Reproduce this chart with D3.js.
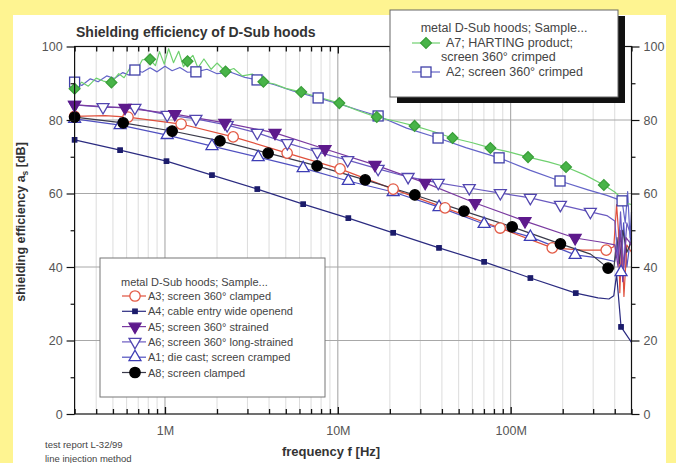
<!DOCTYPE html>
<html>
<head>
<meta charset="utf-8">
<script src="https://cdn.jsdelivr.net/npm/d3@7"></script>
<style>
  body { margin: 0; background: #fef491; }
  svg { display: block; font-family: "Liberation Sans", Arial, sans-serif; }
</style>
</head>
<body>
<div id="chart"></div>
<script>
// frequency in MHz, shielding efficiency in dB, third value 1 = draw a marker there
const a7 = [
  [0.30, 88.5, 1], [0.33, 90.3], [0.36, 89.2], [0.40, 91.4], [0.44, 90.6], [0.49, 90.2, 1], [0.54, 92.6],
  [0.58, 91.5], [0.63, 94.3], [0.68, 93.2], [0.74, 96.4], [0.82, 96.5, 1], [0.88, 94.8], [0.93, 98.6],
  [0.99, 95.2], [1.05, 99.4], [1.12, 95.6], [1.2, 98.7], [1.28, 94.5], [1.35, 96.0, 1], [1.45, 97.6],
  [1.55, 94.2], [1.68, 96.6], [1.85, 93.8], [2.0, 95.5], [2.24, 93.2, 1], [2.5, 94.0], [2.8, 92.0],
  [3.2, 92.5], [3.71, 90.4, 1], [4.3, 89.8], [5.0, 88.6], [6.14, 87.6, 1], [7.5, 86.4], [10.2, 84.6, 1],
  [13, 82.6], [16.8, 80.8, 1], [22, 79.6], [27.8, 78.4, 1], [36, 76.8], [46.1, 75.1, 1], [60, 73.8],
  [76.3, 72.4, 1], [100, 71.2], [126, 69.9, 1], [165, 68.6], [209, 67.2, 1], [270, 65.0], [346, 62.3, 1],
  [400, 60.4], [440, 58.6], [470, 57.3], [500, 57.0]
];
const a2 = [
  [0.30, 90.3, 1], [0.33, 89.4], [0.37, 91.2], [0.41, 90.4], [0.46, 92.0], [0.51, 91.3], [0.57, 92.9],
  [0.62, 92.2], [0.67, 93.6, 1], [0.74, 93.0], [0.82, 94.2], [0.9, 93.1], [1.0, 94.6], [1.1, 93.4],
  [1.22, 94.3], [1.35, 93.0], [1.51, 93.1, 1], [1.75, 93.8], [2.0, 92.6], [2.4, 93.0], [2.9, 91.6],
  [3.41, 90.9, 1], [4.3, 89.6], [5.5, 87.9], [7.69, 86.0, 1], [10.5, 84.2], [13, 82.8], [17.1, 81.1, 1],
  [25, 77.8], [38.0, 75.1, 1], [55, 72.5], [85.7, 69.7, 1], [130, 66.3], [193, 63.4, 1], [280, 61.0],
  [360, 59.5], [441, 58.0, 1], [460, 52.0], [475, 60.5], [490, 48.0], [500, 55.0]
];
const a3 = [
  [0.30, 81.0, 1], [0.45, 81.2], [0.611, 80.8, 1], [1.24, 78.9, 1], [2.48, 75.4, 1], [5.09, 71.0, 1],
  [10.3, 66.7, 1], [20.9, 61.2, 1], [41.7, 56.1, 1], [86.9, 50.6, 1], [174, 45.2, 1], [260, 44.6],
  [357, 44.6, 1], [395, 45.5], [410, 57.0], [420, 50.0], [428, 33.0], [440, 48.0], [452, 32.0],
  [470, 46.0], [500, 44.0]
];
const a4 = [
  [0.30, 74.6, 1], [0.55, 71.8, 1], [1.02, 68.8, 1], [1.87, 65.0, 1], [3.42, 61.2, 1], [6.30, 57.1, 1],
  [11.5, 53.3, 1], [20.9, 49.3, 1], [38.5, 45.2, 1], [70.2, 41.4, 1], [130, 37.0, 1], [238, 32.9, 1],
  [320, 31.6], [370, 31.3], [395, 32.2], [410, 38.0], [435, 23.7, 1], [500, 19.5]
];
const a5 = [
  [0.30, 84.1, 1], [0.587, 83.3, 1], [1.14, 81.6, 1], [2.22, 79.2, 1], [4.33, 76.5, 1], [8.43, 72.1, 1],
  [16.4, 67.8, 1], [32.0, 62.9, 1], [62.3, 57.4, 1], [121, 52.5, 1], [236, 47.9, 1], [330, 46.8],
  [400, 46.0], [418, 40.0], [430, 50.0], [445, 36.0], [465, 48.0], [500, 46.0]
];
const a6 = [
  [0.30, 84.1, 1], [0.438, 83.5, 1], [0.670, 83.3, 1], [1.03, 81.4, 1], [1.51, 80.3, 1], [2.29, 78.6, 1],
  [3.42, 76.5, 1], [5.11, 73.7, 1], [7.61, 71.3, 1], [11.4, 69.1, 1], [17.1, 66.7, 1], [25.5, 64.5, 1],
  [38.1, 62.9, 1], [57.6, 61.5, 1], [87.1, 60.1, 1], [130, 58.8, 1], [194, 56.9, 1], [289, 55.0, 1],
  [360, 54.0], [400, 52.5], [418, 42.0], [432, 55.0], [450, 40.0], [470, 52.0], [500, 48.0]
];
const a1 = [
  [0.30, 80.3, 1], [0.55, 78.6, 1], [1.03, 75.9, 1], [1.87, 72.9, 1], [3.46, 69.9, 1], [6.30, 66.9, 1],
  [11.5, 63.4, 1], [20.9, 60.4, 1], [38.5, 56.3, 1], [70.2, 51.7, 1], [130, 48.2, 1], [236, 43.3, 1],
  [330, 42.4], [400, 41.5], [415, 46.0], [435, 38.6, 1], [450, 52.0], [470, 40.0], [500, 50.0]
];
const a8 = [
  [0.30, 80.8, 1], [0.573, 79.2, 1], [1.10, 77.0, 1], [2.08, 74.3, 1], [3.95, 71.0, 1], [7.58, 67.5, 1],
  [14.4, 63.7, 1], [27.9, 59.6, 1], [53.7, 55.2, 1], [102, 50.9, 1], [194, 46.3, 1], [290, 43.5],
  [366, 39.7, 1], [395, 39.5], [412, 48.0], [425, 41.0], [445, 50.0], [470, 44.0], [500, 47.0]
];

// axis ticks and labels
const yMajor = [0, 20, 40, 60, 80, 100];
const yMinor = [10, 30, 50, 70, 90];
const xDecades = [1, 10, 100];
const xDecadeLabels = ["1M", "10M", "100M"];

const legendTop = ["A7; HARTING product;", "A2; screen 360° crimped"];
const legendBottom = [
  "A3; screen 360° clamped", "A4; cable entry wide openend", "A5; screen 360° strained",
  "A6; screen 360° long-strained", "A1; die cast; screen cramped", "A8; screen clamped"
];

// style per sample
const sA4 = { data: a4, line: "#2b2b80", stroke: "#1c1c6b", fill: "#1c1c6b", sym: "smallsq" };
const sA1 = { data: a1, line: "#5050c0", stroke: "#3d3db5", fill: "#fff", sym: "tri" };
const sA3 = { data: a3, line: "#e0503c", stroke: "#e35a45", fill: "#fff", sym: "circ" };
const sA8 = { data: a8, line: "#3a3a4a", stroke: "#000", fill: "#000", sym: "circ" };
const sA6 = { data: a6, line: "#6a5ac0", stroke: "#5246b0", fill: "#fff", sym: "tridown" };
const sA5 = { data: a5, line: "#7a3aa0", stroke: "#5e1a8c", fill: "#5e1a8c", sym: "tridown" };
const sA2 = { data: a2, line: "#6464c8", stroke: "#4040a8", fill: "#fff", sym: "square" };
const sA7 = { data: a7, line: "#6fd06f", stroke: "#3a9f3a", fill: "#48b448", sym: "diamond" };
const series = [sA4, sA1, sA3, sA8, sA6, sA5, sA2, sA7];

const W = 676, H = 463;
const svg = d3.select("#chart").append("svg").attr("width", W).attr("height", H);

svg.append("rect").attr("width", W).attr("height", H).attr("fill", "#fef491");
svg.append("rect").attr("x", 13).attr("y", 15).attr("width", 653).attr("height", H - 15).attr("fill", "#fff");

const x = d3.scaleLog().domain([0.3, 500]).range([74.6, 631.5]);
const y = d3.scaleLinear().domain([0, 100]).range([414, 46.5]);

const allTicks = x.ticks();

// grid
const grid = svg.append("g");
grid.selectAll(".vg").data(allTicks).join("line")
  .attr("x1", d => x(d)).attr("x2", d => x(d))
  .attr("y1", y(0)).attr("y2", y(100))
  .attr("stroke", d => xDecades.includes(d) ? "#a0a0a0" : "#dcdcdc")
  .attr("stroke-width", 1);
grid.selectAll(".hg").data(yMajor.slice(1, -1)).join("line")
  .attr("x1", x.range()[0]).attr("x2", x.range()[1])
  .attr("y1", d => y(d)).attr("y2", d => y(d))
  .attr("stroke", "#a8a8a8").attr("stroke-width", 1);

// series lines
const line = d3.line().x(d => x(d[0])).y(d => y(d[1]));
const plot = svg.append("g");
series.forEach(s => {
  plot.append("path").datum(s.data)
    .attr("d", line).attr("fill", "none")
    .attr("stroke", s.line).attr("stroke-width", 1.2).attr("stroke-linejoin", "round");
});

function drawMarker(g, sym, st, fl, px, py) {
  let m;
  if (sym === "circ") m = g.append("circle").attr("r", 5.2);
  else if (sym === "square") m = g.append("rect").attr("x", -5).attr("y", -5).attr("width", 10).attr("height", 10);
  else if (sym === "smallsq") m = g.append("rect").attr("x", -2.2).attr("y", -2.2).attr("width", 4.4).attr("height", 4.4);
  else if (sym === "diamond") m = g.append("path").attr("d", d3.symbol(d3.symbolSquare, 58)()).attr("transform", "rotate(45)");
  else if (sym === "tri") m = g.append("path").attr("d", d3.symbol(d3.symbolTriangle, 62)());
  else m = g.append("path").attr("d", d3.symbol(d3.symbolTriangle, 62)()).attr("transform", "rotate(180)");
  m.attr("fill", fl).attr("stroke", st).attr("stroke-width", 1.3);
  g.attr("transform", `translate(${px},${py})`);
}

series.forEach(s => {
  s.data.filter(d => d[2]).forEach(d => {
    drawMarker(plot.append("g"), s.sym, s.stroke, s.fill, x(d[0]), y(d[1]));
  });
});

// frame
svg.append("rect")
  .attr("x", x.range()[0]).attr("y", y(100))
  .attr("width", x.range()[1] - x.range()[0]).attr("height", y(0) - y(100))
  .attr("fill", "none").attr("stroke", "#111").attr("stroke-width", 1.2);

// log ticks on bottom and top, pointing inwards
const fmtTick = d => { const i = xDecades.indexOf(d); return i >= 0 ? xDecadeLabels[i] : ""; };
const xb = svg.append("g").attr("transform", `translate(0,${y(0)})`)
  .call(d3.axisBottom(x).tickValues(allTicks).tickSizeInner(-5).tickSizeOuter(0).tickPadding(12).tickFormat(fmtTick));
const xt = svg.append("g").attr("transform", `translate(0,${y(100)})`)
  .call(d3.axisTop(x).tickValues(allTicks).tickSizeInner(-5).tickSizeOuter(0).tickFormat(""));
[xb, xt].forEach(g => {
  g.select(".domain").remove();
  g.selectAll(".tick line").attr("stroke", "#111").attr("stroke-width", 1.3);
  g.selectAll(".tick").filter(d => xDecades.includes(d)).select("line").attr("y2", g === xb ? -7 : 7);
  g.selectAll("text").attr("font-size", 12.5).attr("fill", "#555").attr("font-family", "Liberation Sans, Arial, sans-serif");
});

// y axes on both sides, ticks pointing outwards
function yAxis(gen, xpos) {
  const g = svg.append("g").attr("transform", `translate(${xpos},0)`)
    .call(gen(y).tickValues(yMajor).tickSizeInner(8).tickSizeOuter(0).tickPadding(4));
  g.select(".domain").remove();
  g.selectAll(".tick line").attr("stroke", "#111").attr("stroke-width", 1.2);
  g.selectAll("text").attr("font-size", 12.5).attr("fill", "#555").attr("font-family", "Liberation Sans, Arial, sans-serif");
  const gm = svg.append("g").attr("transform", `translate(${xpos},0)`)
    .call(gen(y).tickValues(yMinor).tickSizeInner(4).tickSizeOuter(0).tickFormat(""));
  gm.select(".domain").remove();
  gm.selectAll(".tick line").attr("stroke", "#111").attr("stroke-width", 1.2);
}
yAxis(d3.axisLeft, x.range()[0]);
yAxis(d3.axisRight, x.range()[1]);

// titles
svg.append("text").attr("x", 76).attr("y", 37)
  .attr("font-size", 14).attr("font-weight", "bold").attr("fill", "#333")
  .text("Shielding efficiency of D-Sub hoods");

svg.append("text").attr("x", 331).attr("y", 456).attr("text-anchor", "middle")
  .attr("font-size", 13).attr("font-weight", "bold").attr("fill", "#333")
  .text("frequency f [Hz]");

const yl = svg.append("text").attr("transform", "translate(25,222) rotate(-90)")
  .attr("text-anchor", "middle").attr("font-size", 12.5).attr("font-weight", "bold").attr("fill", "#333");
yl.append("tspan").text("shielding efficiency a");
yl.append("tspan").attr("font-size", 8.5).attr("dy", 3).text("s");
yl.append("tspan").attr("dy", -3).text(" [dB]");

svg.append("text").attr("x", 45).attr("y", 448).attr("font-size", 9.5).attr("fill", "#444").text("test report L-32/99");
svg.append("text").attr("x", 45).attr("y", 462).attr("font-size", 9.5).attr("fill", "#444").text("line injection method");

// upper legend with shadow
const L1 = { x: 390, y: 10, w: 228, h: 87 };
svg.append("rect").attr("x", L1.x + 7).attr("y", L1.y + 6).attr("width", L1.w).attr("height", L1.h).attr("fill", "#111");
svg.append("rect").attr("x", L1.x).attr("y", L1.y).attr("width", L1.w).attr("height", L1.h)
  .attr("fill", "#fff").attr("stroke", "#666").attr("stroke-width", 1);
svg.append("text").attr("x", L1.x + L1.w / 2).attr("y", 32).attr("text-anchor", "middle")
  .attr("font-size", 12.5).attr("fill", "#444").text("metal D-Sub hoods; Sample...");
const topSeries = [sA7, sA2];
const topRows = [47, 76];
topSeries.forEach((s, i) => {
  const ry = topRows[i];
  svg.append("line").attr("x1", 412).attr("x2", 440).attr("y1", ry - 4).attr("y2", ry - 4)
    .attr("stroke", s.line).attr("stroke-width", 1.2);
  drawMarker(svg.append("g"), s.sym, s.stroke, s.fill, 426, ry - 4);
  svg.append("text").attr("x", 446).attr("y", ry).attr("font-size", 12.5).attr("fill", "#444").text(legendTop[i]);
});
svg.append("text").attr("x", 441).attr("y", 61).attr("font-size", 12.5).attr("fill", "#444").text("screen 360° crimped");

// lower legend
const L2 = { x: 100, y: 258, w: 225, h: 139 };
svg.append("rect").attr("x", L2.x).attr("y", L2.y).attr("width", L2.w).attr("height", L2.h)
  .attr("fill", "#fff").attr("stroke", "#777").attr("stroke-width", 1);
svg.append("text").attr("x", 121).attr("y", 286).attr("font-size", 11).attr("fill", "#444")
  .text("metal D-Sub hoods; Sample...");
const botSeries = [sA3, sA4, sA5, sA6, sA1, sA8];
botSeries.forEach((s, i) => {
  const ry = 296 + i * 15.3;
  svg.append("line").attr("x1", 122).attr("x2", 146).attr("y1", ry).attr("y2", ry)
    .attr("stroke", s.line).attr("stroke-width", 1.2);
  drawMarker(svg.append("g"), s.sym, s.stroke, s.fill, 135, ry);
  svg.append("text").attr("x", 148).attr("y", ry + 4).attr("font-size", 11).attr("fill", "#444").text(legendBottom[i]);
});
</script>
</body>
</html>
